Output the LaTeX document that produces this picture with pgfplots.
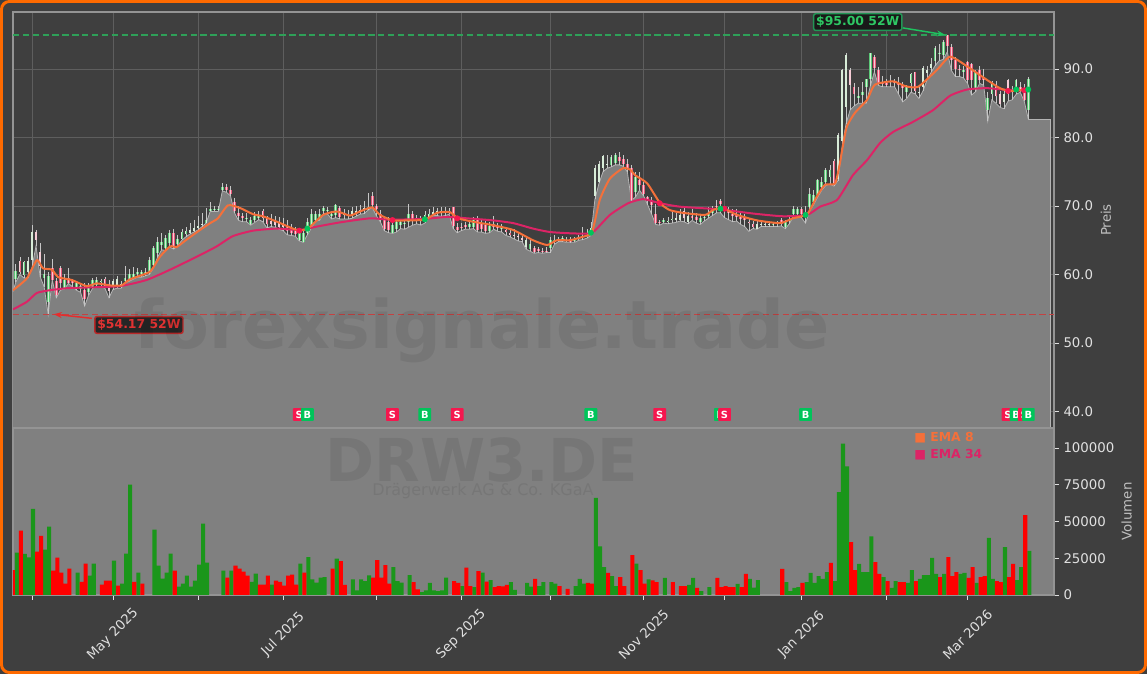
\documentclass[border=0pt]{standalone}
\usepackage{fontspec}
\usepackage{pgfplots}
\usepackage{pgfplotstable}
\pgfplotsset{compat=1.18}
\usetikzlibrary{arrows.meta}
\setmainfont{DejaVu Sans}
\definecolor{bgdark}{HTML}{3F3F3F}
\definecolor{panel}{HTML}{808080}
\definecolor{spine}{HTML}{949494}
\definecolor{gridc}{HTML}{5E5E5E}
\definecolor{tickc}{HTML}{E0E0E0}
\definecolor{border}{HTML}{FF6A00}
\definecolor{ema8}{HTML}{F4703A}
\definecolor{ema34}{HTML}{DC2466}
\definecolor{sigS}{HTML}{F5174E}
\definecolor{sigB}{HTML}{00C45A}
\definecolor{volG}{HTML}{1A961A}
\definecolor{volR}{HTML}{FF0000}
\definecolor{upE}{HTML}{5CC878}
\definecolor{upF}{HTML}{D8ECD8}
\definecolor{dnE}{HTML}{E85A7A}
\definecolor{dnF}{HTML}{F6CCD6}
\definecolor{lineg}{HTML}{B4B4B4}
\definecolor{wick}{HTML}{C6C6C6}
\pgfplotstableread{
i o c h l
-4 59.3 60.5 61.6 58.9
-3 61.9 60.4 62.6 60.0
-2 59.9 61.8 62.0 59.5
-1 60.4 61.9 62.5 59.5
0 62.1 66.2 67.2 61.0
1 66.2 65.1 66.5 64.2
2 63.3 61.2 64.6 59.7
3 59.5 60.0 63.0 58.2
4 56.0 59.8 60.3 54.17
5 61.0 59.2 62.2 59.2
6 59.0 57.0 59.5 56.6
7 61.0 58.7 61.2 57.7
8 58.0 59.2 60.0 57.9
9 59.5 58.7 61.0 58.7
10 59.0 58.8 59.3 58.2
11 58.2 58.7 59.0 57.7
12 57.9 58.3 58.8 57.4
13 57.7 56.4 58.7 55.4
14 57.5 58.0 58.8 57.0
15 58.2 59.2 59.5 58.0
16 58.5 59.2 59.6 58.2
17 58.9 59.0 59.4 58.2
18 59.3 58.3 59.6 58.0
19 58.6 57.6 59.2 56.6
20 58.1 59.0 59.4 57.8
21 58.5 59.4 59.8 58.0
22 58.3 58.6 59.0 58.0
23 59.0 59.5 61.2 58.8
24 59.4 60.0 60.8 59.0
25 59.5 60.0 61.1 59.3
26 60.0 60.3 61.0 59.6
27 60.0 60.3 60.7 59.6
28 60.0 60.4 61.0 59.8
29 60.2 62.1 62.5 60.0
30 61.4 63.9 64.2 61.0
31 63.2 64.8 65.4 62.5
32 64.3 64.8 66.0 63.6
33 63.9 65.3 65.8 63.5
34 64.6 66.1 66.5 64.0
35 66.0 64.0 66.6 63.7
36 64.4 65.2 65.7 64.2
37 65.2 66.2 66.6 65.0
38 65.9 66.3 67.0 65.5
39 66.0 66.5 67.5 65.9
40 66.4 66.8 68.0 66.2
41 66.8 67.1 68.5 66.5
42 67.2 67.4 69.0 67.0
43 67.5 68.0 69.7 67.5
44 69.3 69.6 70.6 69.2
45 69.4 69.6 70.0 69.2
46 69.4 69.6 70.0 69.2
47 72.4 72.8 73.3 72.2
48 72.7 72.4 73.2 72.0
49 72.3 71.8 72.9 71.5
50 70.6 69.2 71.2 69.0
51 69.0 68.5 70.0 67.9
52 68.5 68.2 69.0 67.7
53 68.2 68.3 69.0 67.7
54 67.4 67.9 68.4 67.2
55 68.0 68.5 69.1 67.6
56 68.3 68.6 69.2 68.0
57 69.2 68.2 69.6 67.7
58 68.3 67.3 68.6 66.8
59 67.8 67.4 68.9 67.0
60 67.8 67.2 68.5 66.9
61 67.6 67.0 68.4 66.6
62 67.5 66.9 68.2 66.4
63 67.1 66.4 68.0 65.8
64 66.8 66.1 67.4 65.7
65 66.6 65.9 67.0 65.6
66 65.0 66.0 66.4 64.9
67 64.8 66.0 66.6 64.7
68 66.1 67.7 68.3 65.8
69 67.2 68.9 69.6 66.8
70 68.0 68.9 69.3 67.8
71 68.1 68.9 69.6 67.9
72 69.3 69.7 70.0 68.9
73 69.2 69.4 69.9 68.8
74 68.6 68.8 69.3 68.1
75 68.7 70.1 70.3 68.3
76 69.7 68.4 70.0 68.1
77 68.7 68.9 69.5 68.1
78 68.5 68.7 69.4 68.1
79 68.6 69.2 69.8 68.2
80 69.0 69.2 70.0 68.5
81 69.1 69.4 70.2 68.8
82 69.4 69.7 70.7 68.9
83 69.4 69.8 71.9 69.4
84 71.4 70.1 72.0 69.8
85 70.0 69.5 70.3 68.6
86 68.9 68.0 69.4 67.7
87 67.9 66.7 68.3 66.4
88 67.7 66.5 68.4 66.1
89 66.1 67.2 67.7 66.0
90 66.7 67.6 67.9 66.2
91 67.2 67.6 68.0 66.7
92 67.3 67.5 68.0 66.6
93 67.7 68.9 70.3 66.9
94 68.8 68.0 69.3 67.2
95 68.3 68.0 68.7 67.4
96 68.1 67.8 68.6 67.2
97 67.7 68.7 69.3 67.5
98 68.4 68.9 69.6 68.3
99 68.9 69.1 69.8 68.6
100 69.0 69.2 69.7 68.6
101 69.0 69.3 69.8 68.5
102 69.0 69.2 69.8 68.6
103 69.2 69.0 69.7 68.8
104 69.8 67.1 69.9 66.7
105 67.0 66.5 67.5 66.1
106 67.0 66.8 67.5 66.4
107 67.2 66.9 67.6 66.6
108 67.0 67.3 68.0 66.6
109 67.0 68.0 68.4 66.7
110 68.2 66.5 68.6 66.2
111 67.5 66.7 68.0 66.2
112 67.2 66.3 67.8 66.0
113 66.4 67.1 67.6 66.1
114 67.4 67.0 68.5 66.6
115 67.0 66.8 67.5 66.3
116 66.7 66.9 67.4 66.2
117 66.5 66.2 67.0 65.7
118 66.0 65.8 66.8 65.5
119 65.8 65.6 66.7 65.2
120 65.6 65.4 66.1 64.9
121 65.3 65.0 65.8 64.8
122 64.0 65.0 65.5 63.7
123 63.7 64.5 65.0 63.4
124 63.8 63.3 64.1 63.1
125 63.7 63.5 64.0 63.2
126 63.5 63.3 63.9 63.1
127 63.5 63.4 64.0 63.2
128 63.8 65.1 65.5 63.2
129 64.7 65.1 65.8 64.4
130 65.0 65.2 65.5 64.8
131 65.0 65.3 65.6 64.8
132 64.9 65.1 65.5 64.7
133 65.0 64.8 65.4 64.7
134 64.9 65.1 65.4 64.7
135 65.2 65.4 65.8 65.0
136 65.4 65.6 66.9 65.1
137 65.5 65.7 66.6 65.3
138 66.0 66.8 67.7 65.7
139 71.4 75.5 76.0 71.0
140 73.5 76.2 76.6 73.3
141 75.5 77.3 77.5 75.0
142 76.0 76.1 77.4 75.5
143 76.0 77.2 77.5 75.7
144 76.3 77.4 77.7 76.0
145 77.1 76.5 77.9 76.0
146 76.9 76.2 77.5 75.8
147 76.2 75.5 76.8 75.0
148 75.5 70.9 76.0 70.8
149 72.1 74.3 75.0 71.3
150 73.8 73.0 75.0 72.3
151 73.0 71.8 73.5 71.5
152 71.3 70.9 71.5 70.2
153 70.8 70.2 71.3 68.8
154 68.9 67.5 70.3 67.3
155 67.6 67.5 68.0 67.2
156 67.7 67.9 68.2 67.5
157 67.6 67.8 68.4 67.4
158 67.9 68.1 69.2 67.5
159 68.0 68.2 69.0 67.6
160 68.0 68.7 69.5 67.8
161 69.2 68.2 69.7 67.7
162 67.7 68.5 69.1 67.4
163 68.5 68.2 69.5 67.9
164 68.4 68.0 69.0 67.5
165 67.7 68.3 68.7 67.3
166 68.2 68.4 68.9 67.8
167 68.6 68.8 69.9 68.2
168 69.0 69.2 70.0 68.6
169 70.0 69.8 70.9 69.0
170 70.7 70.3 71.0 69.0
171 69.5 69.2 69.8 68.3
172 69.2 69.0 69.8 68.0
173 68.9 68.6 69.5 67.7
174 68.8 68.4 69.6 67.8
175 68.4 68.1 69.2 67.3
176 68.2 67.9 68.9 67.0
177 67.7 67.5 68.2 66.3
178 67.3 67.0 67.8 66.7
179 66.7 67.4 68.0 66.6
180 67.2 67.3 67.6 67.0
181 67.3 67.4 67.6 67.0
182 67.3 67.4 67.5 67.0
183 67.3 67.4 67.6 67.0
184 67.3 67.5 67.8 67.0
185 68.0 67.4 68.3 67.1
186 66.9 67.6 68.0 66.7
187 67.8 68.1 68.5 67.4
188 68.8 69.5 70.0 68.5
189 68.8 69.5 69.8 68.5
190 69.5 68.9 69.9 68.3
191 68.5 69.0 70.0 67.5
192 69.9 71.8 72.6 69.3
193 70.6 71.6 72.3 70.2
194 71.6 73.8 74.0 71.3
195 72.8 73.5 74.3 72.3
196 73.5 75.2 75.6 73.0
197 74.3 75.3 76.0 73.2
198 76.6 73.0 76.9 72.9
199 73.9 80.3 80.7 73.7
200 79.5 89.8 90.0 78.5
201 84.5 92.0 92.4 82.0
202 89.9 87.7 90.2 84.0
203 87.3 86.4 88.0 84.6
204 85.8 86.0 87.3 85.0
205 86.2 86.7 88.1 85.0
206 87.3 88.5 88.6 85.0
207 88.6 92.3 92.4 87.5
208 91.8 90.1 92.0 89.6
209 89.9 87.9 90.3 87.6
210 88.0 87.8 89.0 87.4
211 88.0 87.7 88.5 87.4
212 88.1 88.3 89.1 87.4
213 88.1 87.9 88.5 87.4
214 88.0 87.7 88.9 86.3
215 87.6 87.2 88.1 85.2
216 86.7 87.4 87.6 85.7
217 87.9 89.2 89.4 86.6
218 89.5 86.8 89.6 86.4
219 86.5 86.7 87.6 85.7
220 87.4 90.1 90.4 86.8
221 89.4 89.8 90.5 88.4
222 90.1 90.8 91.6 89.5
223 91.1 93.0 93.3 90.5
224 92.2 92.4 93.6 91.2
225 92.0 94.0 94.3 91.4
226 95.0 93.4 95.0 92.5
227 93.2 91.3 93.7 89.8
228 91.3 90.0 91.8 88.9
229 90.0 89.8 90.6 88.9
230 89.6 89.8 90.4 88.7
231 91.0 88.4 91.2 87.9
232 90.7 88.4 90.9 86.2
233 87.2 89.6 89.9 86.7
234 89.8 88.4 90.4 87.9
235 88.8 88.4 90.0 87.6
236 84.0 85.7 86.7 82.4
237 86.4 87.9 88.3 85.5
238 87.7 86.0 88.3 85.0
239 86.3 84.9 86.8 84.4
240 85.2 86.4 87.0 84.2
241 88.4 86.4 88.6 85.3
242 86.8 86.6 87.5 85.5
243 86.7 88.4 88.5 86.3
244 87.3 87.0 88.1 86.6
245 87.2 85.5 87.8 85.3
246 84.0 88.6 88.9 82.7
}\cand
\pgfplotstableread{
i p
-4.7 57.7
-1.3 59.4
1.2 62.1
2.7 60.9
4.9 60.7
6.5 59.6
9.8 59.2
13.5 58.3
16 58.7
19.3 58.4
22.1 58.4
24.2 59.3
29.1 60.4
31.6 62.6
34.1 64.1
35.7 64.0
38.2 65.1
41.5 66.5
44 67.5
45.9 68.2
48.4 70.1
51.4 69.7
54.6 68.8
57 68.5
60.5 67.7
65.4 66.5
68.1 66.7
71.9 68.7
75.3 69.2
78.5 68.6
81 69.2
84 69.8
85.9 68.7
89.1 67.9
92.8 67.9
97 68.0
100 69.0
103.2 69.1
105.2 68.2
108.9 67.7
113.8 67.2
118.8 66.5
123.7 65.0
127.2 64.3
129.6 65.0
132.8 65.0
136 65.5
138.3 66.2
140.2 70.9
142.7 74.0
145.9 75.5
147.7 75.3
148.9 74.5
151.9 73.3
155.1 70.4
157.5 69.4
160.7 69.0
166.2 68.7
168.1 69.4
170.4 69.7
174.1 68.7
179 67.9
184.7 67.5
187.9 68.2
191.4 68.8
193.8 71.4
195.8 73.1
198.3 73.3
199.5 76.3
200.2 78.7
201.2 81.6
203.2 83.6
206.2 85.5
208.1 87.7
212.6 88.2
215.6 87.5
218.8 87.4
223.5 89.9
226.7 91.8
231.1 90.3
235.8 88.4
239 87.2
241.5 86.8
245.9 87.0
}\emaA
\pgfplotstableread{
i p
-4.7 54.9
-1.3 56.0
1.2 57.3
4.4 57.7
8.6 58.0
13.5 58.1
21.7 58.3
28.3 59.2
34.1 60.7
40.7 62.6
45.6 64.1
49.6 65.6
54.6 66.4
60.5 66.7
66.2 66.5
70.4 67.0
76 67.6
83.5 68.2
88.4 68.0
96.5 68.1
102.5 68.4
107.4 68.2
113.8 67.9
118.8 67.5
123.7 66.7
127.9 66.2
133.6 66.0
138.3 66.1
142.7 68.7
147.2 70.4
150.9 71.0
155.1 70.4
160 69.9
169.9 69.5
178 68.9
185.4 68.5
191.4 68.7
194.6 69.9
198.8 70.9
202.7 74.5
206.2 76.7
209.4 79.2
212.6 80.8
217.6 82.3
222.5 84.0
226.7 86.1
230.9 87.0
235.8 87.2
241.5 86.9
245.9 86.9
}\emaB
\pgfplotstableread{
i v
-4 28800
-2 27900
-1 25600
0 58500
3 30800
4 46500
11 15200
14 13100
15 21300
20 23350
22 7700
23 28100
24 75000
26 15200
30 44400
31 20000
32 11100
33 15200
34 28100
36 5700
37 7700
38 13100
39 5700
40 9750
41 20600
42 48500
43 22000
47 16500
49 16500
54 9000
55 14500
59 7000
66 21300
68 25800
69 10650
70 8400
71 11800
72 12200
75 24700
79 10650
80 3200
81 10650
82 9500
83 13400
89 19000
90 9500
91 8400
93 13600
96 2000
97 3200
98 8200
99 3200
100 2700
101 3200
102 11800
106 6100
109 5400
111 15200
113 10200
118 8800
119 3400
122 8200
123 5700
125 6100
126 8800
128 8800
129 7700
134 6100
135 10900
136 7700
139 66000
140 33000
141 19000
143 12900
144 6100
149 21300
152 10650
156 11600
162 6800
163 11600
165 2700
167 5400
174 7500
177 10900
178 5000
179 10200
186 8800
187 2700
188 4800
189 5400
191 8800
192 15000
193 8200
194 12900
195 10900
196 15600
198 9500
199 70000
200 103000
201 87500
204 21100
205 15600
206 15600
207 39800
210 12200
212 4800
213 9500
216 8200
217 17000
219 10900
220 13600
221 13600
222 25200
223 14300
225 14300
229 14300
230 15000
233 8200
236 38800
237 10900
240 32600
243 10200
244 19000
246 30000
}\volgreen
\pgfplotstableread{
i v
-5 17000
-3 43750
1 29500
2 40300
5 16500
6 25400
7 15200
8 7700
9 17900
12 9000
13 21300
17 7000
18 9750
19 9750
21 6350
25 9000
27 7700
35 16500
48 11800
50 20000
51 17900
52 15900
53 13100
56 7000
57 7000
58 13100
60 9750
61 9000
62 6350
63 13100
64 13800
65 7000
67 15200
74 17900
76 23100
77 6800
84 11800
85 23800
86 11800
87 20400
88 7700
94 8800
95 3900
104 9500
105 8200
107 18600
108 6100
110 16300
112 9100
114 5400
115 6100
116 5900
117 6800
124 10900
130 6100
132 4100
137 8200
138 7700
142 15000
145 12200
146 6100
148 27200
150 17000
151 7700
153 10000
154 8800
158 8800
160 6100
161 6100
164 4800
169 11600
170 5400
171 6100
172 5400
173 5400
175 5400
176 14300
185 17700
190 8200
197 21800
202 36000
203 17000
208 22400
209 14300
211 9500
214 8800
215 8800
218 9500
224 12200
226 25800
227 12900
228 15600
231 11600
232 19000
234 12200
235 12900
238 9500
239 8800
241 12200
242 21100
245 54400
}\volred
\newcommand\sig[3]{\addplot[draw=none,mark=none,forget plot,nodes near coords={#2},
  every node near coord/.style={anchor=center,fill=#3,text=white,inner sep=0pt,
  minimum width=9.6pt,minimum height=9.6pt,rounded corners=.6pt,
  font=\fontsize{7.4pt}{8pt}\selectfont\bfseries}] coordinates {(#1,39.56)};}
\begin{document}
\begin{tikzpicture}[x=1pt,y=1pt]
\path[use as bounding box] (0,0) rectangle (860.25,505.5);
\fill[bgdark] (0,0) rectangle (860.25,505.5);
\draw[border,line width=2.2pt,rounded corners=6pt] (1.1,1.1) rectangle (859.15,504.4);
\pgfplotsset{common/.style={
  scale only axis,width=780.75pt,
  xmin=-4.69,xmax=252.35,
  xtick={0,20,41,62,85,106,128,151,171,190,211,231},
  xtick pos=lower,
  axis line style={spine,line width=.8pt},
  tick style={tickc,line width=.6pt},
  major tick length=3.6pt,
  tick align=outside,
  yticklabel pos=right,
  ytick pos=right,
  tick label style={text=tickc,font=\fontsize{10pt}{12pt}\selectfont},
  every axis y label/.style={at={(axis description cs:1,0.5)},anchor=center,rotate=90,text=lightgray},
}}
% ---------- price panel
\begin{axis}[common,at={(9.75pt,184.5pt)},anchor=south west,height=312pt,
  ymin=37.59,ymax=98.32,
  ytick={40,50,60,70,80,90},
  yticklabel style={/pgf/number format/fixed,/pgf/number format/fixed zerofill,/pgf/number format/precision=1,/pgf/number format/assume math mode=true},
  xticklabels={},
  x tick style={draw=none},
  xmajorgrids,ymajorgrids,
  grid style={gridc,line width=.5pt},
  ylabel={\fontsize{10pt}{12pt}\selectfont Preis},
  every axis y label/.append style={yshift=-39pt},
]
% area under the lows
\addplot[fill=panel,draw=none,forget plot] table[x=i,y=l]{\cand} \closedcycle;
\addplot[fill=panel,draw=none,forget plot] coordinates {(246,82.7)(251.4,82.7)} \closedcycle;
\addplot[fill=panel,draw=none,forget plot] coordinates {(-4.69,57.5)(-4,58.9)} \closedcycle;
\addplot[lineg,line width=.6pt,forget plot] coordinates {(-4.69,57.5)(-4,58.9)};
\addplot[lineg,line width=.6pt,forget plot] table[x=i,y=l]{\cand};
\addplot[lineg,line width=.6pt,forget plot] coordinates {(246,82.7)(251.4,82.7)(251.4,37.59)};
% wicks
\addplot[draw=none,mark=none,forget plot,
  error bars/.cd,y dir=both,y explicit,error mark=none,
  error bar style={draw=wick,line width=.5pt,solid}]
  table[x=i,y=c,y error plus expr=\thisrow{h}-\thisrow{c},y error minus expr=\thisrow{c}-\thisrow{l}]{\cand};
% bodies
\addplot[draw=none,mark=none,forget plot,restrict expr to domain={\thisrow{c}-\thisrow{o}}{0:100},
  error bars/.cd,y dir=minus,y explicit,error mark=none,
  error bar style={draw=upE,line width=2pt,solid}]
  table[x=i,y=c,y error minus expr=\thisrow{c}-\thisrow{o}]{\cand};
\addplot[draw=none,mark=none,forget plot,restrict expr to domain={\thisrow{c}-\thisrow{o}}{0:100},
  error bars/.cd,y dir=minus,y explicit,error mark=none,
  error bar style={draw=upF,line width=.9pt,solid}]
  table[x=i,y=c,y error minus expr=\thisrow{c}-\thisrow{o}]{\cand};
\addplot[draw=none,mark=none,forget plot,restrict expr to domain={\thisrow{o}-\thisrow{c}}{0:100},
  error bars/.cd,y dir=plus,y explicit,error mark=none,
  error bar style={draw=dnE,line width=2pt,solid}]
  table[x=i,y=c,y error plus expr=\thisrow{o}-\thisrow{c}]{\cand};
\addplot[draw=none,mark=none,forget plot,restrict expr to domain={\thisrow{o}-\thisrow{c}}{0:100},
  error bars/.cd,y dir=plus,y explicit,error mark=none,
  error bar style={draw=dnF,line width=.9pt,solid}]
  table[x=i,y=c,y error plus expr=\thisrow{o}-\thisrow{c}]{\cand};
% 52 week lines
\addplot[color={rgb,255:red,46;green,160;blue,88},dash pattern=on 4.8pt off 2.6pt,line width=1.3pt,forget plot] coordinates {(-4.69,95)(252.35,95)};
\addplot[color={rgb,255:red,196;green,66;blue,66},dash pattern=on 4.8pt off 2.6pt,line width=1.3pt,forget plot] coordinates {(-4.69,54.17)(252.35,54.17)};
% EMAs
\addplot[ema34,line width=1.5pt,line join=round,smooth,tension=.35,forget plot] table[x=i,y=p]{\emaB};
\addplot[ema8,line width=1.5pt,line join=round,smooth,tension=.35,forget plot] table[x=i,y=p]{\emaA};
% crossing dots
\addplot[only marks,mark=*,mark size=2pt,sigS,forget plot] coordinates {(66,66.4)(89,67.95)(105,68.2)(155,70.4)(171,69.6)(241,86.8)(245,86.9)};
\addplot[only marks,mark=*,mark size=2pt,sigB,forget plot] coordinates {(68,66.7)(97,68.05)(138,66.1)(170,69.6)(191,68.7)(243,87)(246,87)};
% signal labels
\sig{66}{S}{sigS}
\sig{68}{B}{sigB}
\sig{89}{S}{sigS}
\sig{97}{B}{sigB}
\sig{105}{S}{sigS}
\sig{138}{B}{sigB}
\sig{155}{S}{sigS}
\sig{170}{B}{sigB}
\sig{171}{S}{sigS}
\sig{191}{B}{sigB}
\sig{241}{S}{sigS}
\sig{243}{B}{sigB}
\sig{245}{S}{sigS}
\sig{246}{B}{sigB}
% annotations
\draw[-{Stealth[length=6pt,width=4.5pt]},color={rgb,255:red,30;green,195;blue,95},line width=1.1pt] (axis cs:215,96.0) -- (axis cs:225.4,95);
\draw[-{Stealth[length=6pt,width=4.5pt]},color={rgb,255:red,230;green,45;blue,45},line width=1.1pt] (axis cs:14.8,53.6) -- (axis cs:5.4,54.2);
\node[fill=black!90,draw={rgb,255:red,34;green,150;blue,85},line width=1.1pt,rounded corners=1.5pt,inner xsep=1.9pt,inner ysep=0pt,minimum height=12.5pt,text={rgb,255:red,46;green,200;blue,100},font=\fontsize{9.3pt}{11pt}\selectfont\bfseries] at (axis cs:203.9,96.85) {\$95.00 52W};
\node[fill=black!85,draw={rgb,255:red,185;green,40;blue,40},line width=1.1pt,rounded corners=1.5pt,inner xsep=1.9pt,inner ysep=0pt,minimum height=12.5pt,text={rgb,255:red,225;green,50;blue,50},font=\fontsize{9.3pt}{11pt}\selectfont\bfseries] at (axis cs:26.4,52.63) {\$54.17 52W};
\end{axis}
% ---------- volume panel
\begin{axis}[common,at={(9.75pt,59.25pt)},anchor=south west,height=125.25pt,
  ymin=0,ymax=113600,
  ytick={0,25000,50000,75000,100000},
  scaled y ticks=false,
  yticklabel style={/pgf/number format/fixed,/pgf/number format/set thousands separator={},/pgf/number format/assume math mode=true},
  axis background/.style={fill=panel},
  xticklabels={,May 2025,,Jul 2025,,Sep 2025,,Nov 2025,,Jan 2026,,Mar 2026},
  xticklabel style={rotate=45,anchor=center,xshift=-18.4pt,yshift=-18.4pt},
  ylabel={\fontsize{10pt}{12pt}\selectfont Volumen},
  every axis y label/.append style={yshift=-54.5pt},
]
\addplot[ybar,bar width=1,bar shift=0.25,fill=volG,draw=none,forget plot] table[x=i,y=v]{\volgreen};
\addplot[ybar,bar width=1,bar shift=0.25,fill=volR,draw=none,forget plot] table[x=i,y=v]{\volred};
\end{axis}
% ---------- watermarks and legend
\node[text=black,opacity=.075,font=\fontsize{50pt}{55pt}\selectfont\bfseries] at (361.5,258) {forexsignale.trade};
\node[text=black,opacity=.075,font=\fontsize{44.3pt}{50pt}\selectfont\bfseries] at (361.5,160.5) {DRW3.DE};
\node[text=black,opacity=.07,font=\fontsize{12pt}{14pt}\selectfont] at (362.25,137.25) {Drägerwerk AG \& Co. KGaA};
\node[anchor=west,inner sep=0pt,text=ema8,font=\fontsize{9.3pt}{11pt}\selectfont\bfseries] at (685.5,177) {■ EMA 8};
\node[anchor=west,inner sep=0pt,text=ema34,font=\fontsize{9.3pt}{11pt}\selectfont\bfseries] at (685.5,164.25) {■ EMA 34};
\end{tikzpicture}
\end{document}
